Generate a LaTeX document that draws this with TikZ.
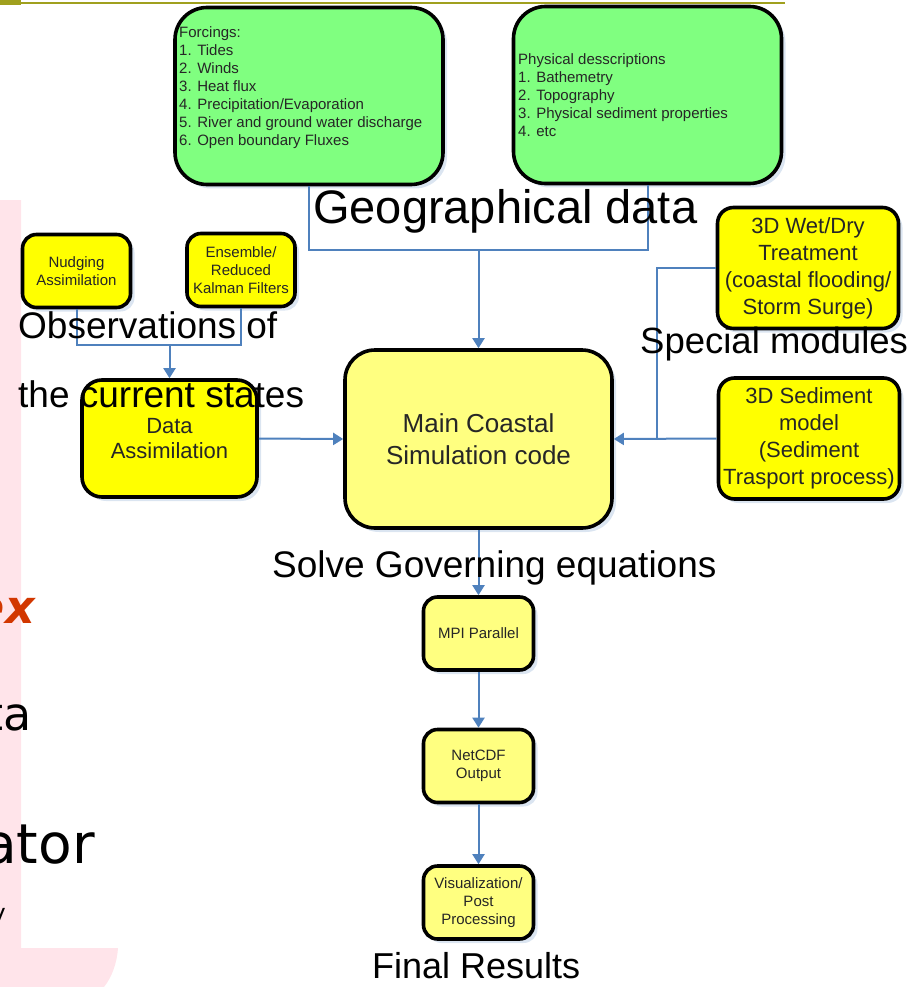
\documentclass[tikz,border=0pt]{standalone}
\usepackage{fontspec}
\setmainfont{Liberation Sans}
\newfontfamily\slidefont{DejaVu Sans}
\usetikzlibrary{arrows.meta,shadows}

\definecolor{boxgreen}{RGB}{128,255,128}
\definecolor{boxyellow}{RGB}{255,255,0}
\definecolor{paleyellow}{RGB}{255,255,128}
\definecolor{linkblue}{RGB}{79,129,189}
\definecolor{slidepink}{RGB}{255,228,234}
\definecolor{slideolive}{RGB}{160,160,30}
\definecolor{slidered}{RGB}{210,55,0}

\tikzset{
	box/.style={draw=black, line width=3.6pt, align=center, text=black!85, inner sep=0pt,
		drop shadow={shadow xshift=4pt, shadow yshift=-4pt, fill=linkblue!45, opacity=.45}},
	greenbox/.style={box, fill=boxgreen, rounded corners=32pt, minimum width=268pt, minimum height=177pt},
	mainbox/.style={box, fill=paleyellow, rounded corners=30pt, minimum width=267pt, minimum height=178pt,
		font=\fontsize{26}{32}\selectfont},
	smallbox/.style={box, fill=boxyellow, rounded corners=14pt, minimum width=108pt, minimum height=73pt,
		font=\fontsize{15}{18}\selectfont},
	stepbox/.style={smallbox, fill=paleyellow, minimum width=110pt},
	modbox/.style={box, fill=boxyellow, rounded corners=16pt, minimum width=181pt, minimum height=121pt,
		font=\fontsize{22}{27}\selectfont},
	listtext/.style={anchor=north west, align=left, inner sep=0pt, text=black!85, font=\fontsize{15}{18}\selectfont},
	bigtext/.style={anchor=base west, inner sep=0pt, font=\fontsize{37}{37}\selectfont},
	slidetext/.style={anchor=base east, inner sep=0pt, font=\slidefont},
	link/.style={draw=linkblue, line width=2pt},
	arrowlink/.style={link, -{Triangle[length=10pt,width=12pt]}}
}

\begin{document}
\begin{tikzpicture}[x=1pt,y=-1pt]
	\useasboundingbox (0,0) rectangle (910,987);
	\clip (0,0) rectangle (910,987);
	
	%slide behind the picture
	\fill[slidepink] (0,200) -- (21,200) -- (21,948) -- (118,948) .. controls (117,963) and (112,977) .. (104,987) -- (0,987) -- cycle;
	\fill[slideolive] (0,0) rectangle (21,5);
	\draw[slideolive, line width=1.5pt] (21,3) -- (785,3);
	\node[slidetext, text=slidered, font=\slidefont\bfseries\itshape\fontsize{46}{46}\selectfont] (wordex) at (35,623) {ex};
	\node[slidetext, font=\slidefont\fontsize{46}{46}\selectfont] (wordta) at (32,730) {ta};
	\node[slidetext, font=\slidefont\fontsize{55}{55}\selectfont] (wordator) at (95,863) {ator};
	\node[slidetext, font=\slidefont\fontsize{24}{24}\selectfont] (wordy) at (6,921) {y};
	
	%input data
	\node[greenbox] (forcing) at (309,96) {};
	\node[listtext] (forcingtxt) at (179,26) {Forcings:\\1. Tides\\2. Winds\\3. Heat flux\\4. Precipitation/Evaporation\\5. River and ground water discharge\\6. Open boundary Fluxes};
	\node[greenbox] (physical) at (647.5,95) {};
	\node[listtext] (physicaltxt) at (518,53) {Physical desscriptions\\1. Bathemetry\\2. Topography\\3. Physical sediment properties\\4. etc};
	
	%assimilation
	\node[smallbox] (nudging) at (76.5,271) {Nudging\\Assimilation};
	\node[smallbox] (ensemble) at (241,270) {Ensemble/\\Reduced\\Kalman Filters};
	\node[smallbox, rounded corners=20pt, minimum width=175pt, minimum height=117pt, font=\fontsize{22}{25}\selectfont] (dataassim) at (169.5,438.5) {Data\\Assimilation};
	
	%main code and modules
	\node[mainbox] (main) at (478.5,439) {Main Coastal\\Simulation code};
	\node[modbox] (wetdry) at (808,268) {3D Wet/Dry\\Treatment\\(coastal flooding/\\Storm Surge)};
	\node[modbox] (sediment) at (809,438.5) {3D Sediment\\model\\(Sediment\\Trasport process)};
	
	%output chain
	\node[stepbox] (mpi) at (478.5,633.5) {MPI Parallel};
	\node[stepbox] (netcdf) at (478.5,766) {NetCDF\\Output};
	\node[stepbox] (visual) at (478.5,902.5) {Visualization/\\Post\\Processing};
	
	%connectors
	\coordinate (geojoin) at (478.5,250);
	\coordinate (obsjoin) at (169.5,345);
	\coordinate (modjoin) at (657,438.5);
	\draw[link] (forcing.south) |- (geojoin) -| (physical.south);
	\draw[arrowlink] (geojoin) -- (main.north);
	\draw[link] (nudging.south) |- (obsjoin) -| (ensemble.south);
	\draw[arrowlink] (obsjoin) -- (dataassim.north);
	\draw[arrowlink] (dataassim.east) -- (main.west);
	\draw[link] (wetdry.west) -| (modjoin);
	\draw[arrowlink] (sediment.west) -- (main.east);
	\draw[arrowlink] (main.south) -- (mpi.north);
	\draw[arrowlink] (mpi.south) -- (netcdf.north);
	\draw[arrowlink] (netcdf.south) -- (visual.north);
	
	%big labels on top
	\node[bigtext, font=\fontsize{47}{47}\selectfont] (geolabel) at (313,223) {Geographical data};
	\node[bigtext] (obslabel) at (18,338) {Observations of};
	\node[bigtext] (statelabel) at (18,407) {the current states};
	\node[bigtext, font=\fontsize{36.5}{36.5}\selectfont] (modlabel) at (640,353) {Special modules};
	\node[bigtext] (solvelabel) at (272,577) {Solve Governing equations};
	\node[bigtext, font=\fontsize{36}{36}\selectfont] (finallabel) at (372,978) {Final Results};
\end{tikzpicture}
\end{document}
